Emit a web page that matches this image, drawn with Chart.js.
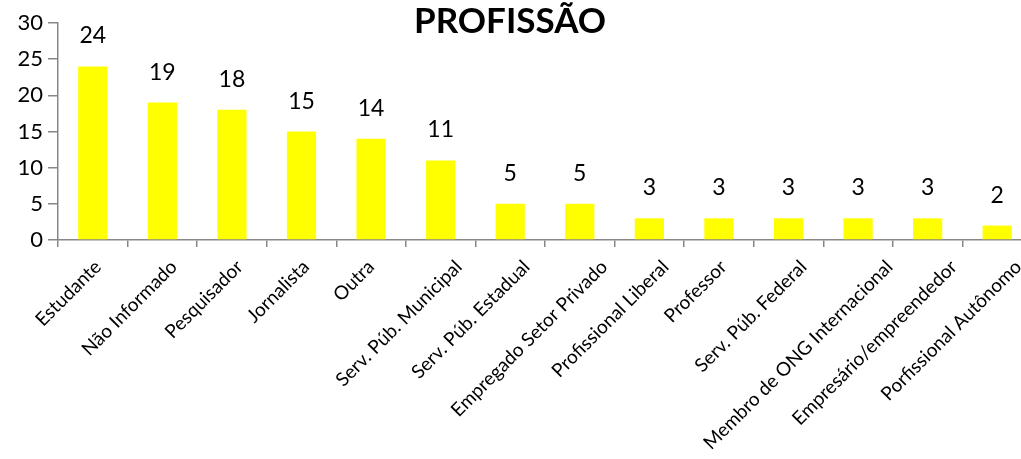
<!DOCTYPE html>
<html><head><meta charset="utf-8">
<script src="https://cdn.jsdelivr.net/npm/chart.js@4"></script>
<style>html,body{margin:0;padding:0;background:#fff;overflow:hidden}#wrap{width:1032px;height:459px}</style>
</head><body><div id="wrap"><canvas id="c"></canvas></div>
<script>
const categories = ['Estudante','Não Informado','Pesquisador','Jornalista','Outra','Serv. Púb. Municipal','Serv. Púb. Estadual','Empregado Setor Privado','Profissional Liberal','Professor','Serv. Púb. Federal','Membro de ONG Internacional','Empresário/empreendedor','Porfissional Autônomo'];
const values = [24,19,18,15,14,11,5,5,3,3,3,3,3,2];
const yTicks = [0,5,10,15,20,25,30];
const titleText = 'PROFISSÃO';

const FONT = 'Lato, "Open Sans", sans-serif';
const axisGrey = '#878787';

const labelPlugin = {
  id: 'labels',
  afterDraw(chart) {
    const ctx = chart.ctx;
    const meta = chart.getDatasetMeta(0);
    const xs = chart.scales.x;
    ctx.save();
    ctx.fillStyle = '#000';
    // value labels
    ctx.font = '23px ' + FONT;
    ctx.textAlign = 'center';
    ctx.textBaseline = 'alphabetic';
    meta.data.forEach((bar, i) => {
      ctx.fillText(String(values[i]), bar.x, bar.y - 23);
    });
    // rotated category labels (Excel-like anchoring)
    ctx.font = '19px ' + FONT;
    ctx.textAlign = 'right';
    ctx.textBaseline = 'top';
    categories.forEach((c, i) => {
      const w = ctx.measureText(c).width;
      const x = xs.getPixelForValue(i) + 0.15 * w - 14;
      const y = xs.top + 17;
      ctx.save();
      ctx.translate(x, y);
      ctx.rotate(-Math.PI / 4);
      ctx.fillText(c, 0, 0);
      ctx.restore();
    });
    // title
    ctx.font = 'bold 35px ' + FONT;
    ctx.textAlign = 'center';
    ctx.textBaseline = 'middle';
    ctx.fillText(titleText, 510, 22);
    ctx.restore();
  }
};

new Chart(document.getElementById('c'), {
  type: 'bar',
  data: {
    labels: categories,
    datasets: [{
      data: values,
      backgroundColor: '#FFFF00',
      borderWidth: 0,
      barPercentage: 0.42,
      categoryPercentage: 1
    }]
  },
  options: {
    responsive: true,
    maintainAspectRatio: false,
    animation: false,
    layout: { padding: { top: 23, left: 0, right: 0, bottom: 0 } },
    plugins: { legend: { display: false }, tooltip: { enabled: false }, title: { display: false } },
    scales: {
      x: {
        grid: { drawOnChartArea: false, offset: true, tickLength: 7, color: axisGrey, lineWidth: 1.5 },
        border: { color: axisGrey, width: 1.5 },
        ticks: { display: false, autoSkip: false },
        afterFit(s) { s.height = 219; }
      },
      y: {
        min: 0, max: 30,
        afterBuildTicks(s) { s.ticks = yTicks.map(v => ({ value: v })); },
        grid: { drawOnChartArea: false, tickLength: 10, color: axisGrey, lineWidth: 1.5 },
        border: { color: axisGrey, width: 1.5 },
        ticks: { color: '#000', font: { family: FONT, size: 22 }, padding: 5 },
        afterFit(s) { s.width = 58; }
      }
    }
  },
  plugins: [labelPlugin]
});
</script>
</body></html>
